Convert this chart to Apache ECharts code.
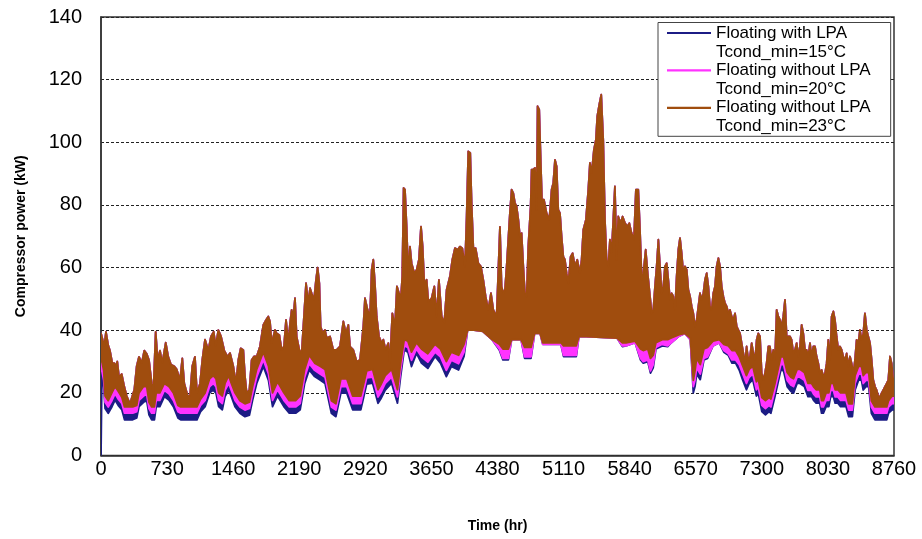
<!DOCTYPE html>
<html>
<head>
<meta charset="utf-8">
<script src="https://cdn.jsdelivr.net/npm/echarts@6/dist/echarts.min.js"></script>
<style>
html,body{margin:0;padding:0;background:#fff;}
#chart{width:922px;height:539px;}
</style>
</head>
<body>
<div id="chart"></div>
<script>
// ---- data (hour of year, compressor power kW) ----
const seriesNames = [
  'Floating with LPA\nTcond_min=15°C',
  'Floating without LPA\nTcond_min=20°C',
  'Floating without LPA\nTcond_min=23°C'
];
const seriesColors = ['#1c1c85', '#ff33ff', '#a04d0e'];

// upper envelope (daily peaks) – shared by the three curves (they coincide at high load)
const upperEnvelope = [
  [0,39],[36,35],[55,39.5],[81,35],[99,33.5],[125,29.5],[147,29.5],[162,28.5],[180,30],[199,25],
  [229,26],[257,22],[284,19],[320,16.5],[346,19],[368,21],[394,28.5],[420,31.5],[450,29.5],[478,33.5],
  [505,32.5],[530,30.5],[560,23],[578,20],[604,39.5],[626,30.5],[652,33.5],[677,29.5],[715,36],[743,31.5],
  [773,29],[810,28.5],[836,27.5],[873,24],[898,31],[920,23],[958,19],[983,19],[1008,28.5],[1038,31.5],
  [1060,20],[1094,23],[1119,30.5],[1149,37],[1185,33.5],[1215,38],[1245,39.5],[1267,35],[1296,40],[1326,38],
  [1362,33.5],[1399,31.5],[1425,32.7],[1462,28.4],[1491,23],[1517,30.5],[1543,34.2],[1572,33.7],[1591,25.2],[1609,19.9],
  [1639,20.9],[1664,30.5],[1690,31.6],[1720,31.6],[1756,34.8],[1793,41.7],[1823,43.3],[1848,44.4],[1867,42.8],[1885,35.9],
  [1904,38],[1922,40.1],[1940,39],[1970,38.5],[1996,33.7],[2021,34.8],[2044,43.3],[2069,35.9],[2088,42.2],[2106,46.5],
  [2125,44.4],[2143,50.2],[2161,38],[2191,33.7],[2217,32.7],[2235,41.2],[2265,55],[2290,48.6],[2309,53.4],[2327,51.8],
  [2353,49.7],[2375,56.1],[2393,60],[2412,55],[2426,41.2],[2449,39],[2474,40.1],[2493,37.5],[2530,38],[2566,33.7],
  [2603,33.7],[2640,34.8],[2677,42.8],[2706,39],[2732,41.7],[2751,34.8],[2787,33.7],[2824,30],[2861,30.5],[2898,41.2],
  [2916,50.2],[2945,46.5],[2971,44.4],[2990,59.3],[3008,62.5],[3026,55],[3045,44.4],[3071,38],[3100,35.9],[3119,37],
  [3144,33.7],[3174,35.9],[3192,29.5],[3218,45.4],[3247,41.2],[3269,54],[3292,51.8],[3314,50.8],[3328,57.2],[3343,85.4],
  [3358,84.9],[3376,73.1],[3395,57.2],[3413,66.7],[3431,61.4],[3461,58.2],[3487,59.3],[3512,62.5],[3535,73.1],[3553,66.7],
  [3571,55],[3597,56.1],[3616,49.1],[3652,50.2],[3682,54],[3708,44.4],[3733,56.1],[3763,44.4],[3792,42.3],[3818,52.9],
  [3855,57.2],[3881,62.5],[3910,66.2],[3940,65.7],[3965,66.7],[3991,66.2],[4021,60.3],[4039,76.3],[4057,97.1],[4079,96.6],
  [4094,80.6],[4113,66.2],[4138,66.2],[4168,61.4],[4197,60.3],[4223,56.1],[4249,50.8],[4278,46.5],[4308,51.8],[4334,46.5],
  [4370,44.4],[4407,73],[4425,54],[4444,51.8],[4462,52.9],[4481,60.4],[4499,68.9],[4517,77.4],[4536,84.9],[4554,83.8],
  [4573,80.6],[4591,79.5],[4610,75.3],[4628,69.9],[4646,71],[4665,60.4],[4683,51.8],[4702,50.8],[4720,66.7],[4746,79.5],
  [4757,91.3],[4775,91.3],[4794,91.8],[4812,78.5],[4823,111.5],[4841,110.4],[4856,95.5],[4871,81.7],[4893,81.7],[4922,77.4],
  [4952,75.3],[4978,84.9],[4996,87],[5015,94.4],[5033,92.3],[5051,78.5],[5070,77.4],[5088,69.9],[5107,63.5],[5125,62.5],
  [5143,58.2],[5162,55],[5188,63.5],[5210,64.6],[5235,60.4],[5261,62.5],[5291,58.2],[5309,62.5],[5328,72.1],[5357,75.3],
  [5383,84.9],[5401,93.4],[5420,90.2],[5445,97.6],[5467,100.8],[5482,108.3],[5504,112],[5526,115.2],[5548,100.8],[5567,75.3],
  [5585,62.5],[5604,60.4],[5622,68.9],[5640,64.6],[5659,75.3],[5677,85.9],[5696,62.5],[5714,76.3],[5740,74.2],[5762,76.3],
  [5788,74.2],[5814,73.1],[5836,74.2],[5861,71],[5887,68.9],[5909,84.9],[5935,84.9],[5954,72.1],[5973,56.1],[5991,58.2],
  [6017,65.7],[6039,58.2],[6065,50.8],[6083,45.4],[6101,46.5],[6120,54],[6138,60.4],[6157,68.9],[6175,60.4],[6194,51.8],
  [6212,54],[6230,60.4],[6249,61.4],[6267,56.1],[6286,49.7],[6304,51.8],[6322,50.8],[6341,46.5],[6359,57.2],[6378,65.7],
  [6396,69.4],[6414,64.6],[6433,58.2],[6451,60.4],[6470,59.3],[6488,52.9],[6507,50.8],[6525,47.6],[6543,45.4],[6562,41.2],
  [6580,43.3],[6599,47.6],[6617,51.8],[6635,49.7],[6654,51.8],[6672,56.1],[6691,58.2],[6709,54],[6727,47.6],[6746,46.5],
  [6764,51.8],[6783,54],[6801,60.4],[6820,63],[6838,60.4],[6856,54],[6875,50.8],[6893,48.6],[6912,47.6],[6930,45.4],
  [6948,46.5],[6967,44.4],[6985,43.3],[7004,45.4],[7022,41.2],[7040,40.1],[7059,39],[7077,35.9],[7096,32.7],[7114,29.5],
  [7132,34.8],[7151,30.5],[7169,31.6],[7188,35.9],[7206,32.7],[7225,30.5],[7243,37],[7261,39],[7280,38],[7298,26.3],
  [7317,24.2],[7335,26.3],[7353,29.5],[7372,34.8],[7390,34.8],[7408,30.5],[7427,33.7],[7445,30.5],[7464,46.5],[7482,44.4],
  [7500,43.3],[7519,41.2],[7537,44.4],[7556,49.7],[7574,38],[7593,38],[7611,38],[7629,36.9],[7648,32.6],[7666,33.7],
  [7685,35.9],[7703,31.6],[7721,34.8],[7740,41.7],[7758,39],[7777,33.7],[7795,33.7],[7813,31.6],[7832,35.9],[7850,31.6],
  [7869,34.8],[7887,34.8],[7905,31.6],[7924,29.4],[7942,26.2],[7961,27.3],[7979,25.2],[7998,26.2],[8016,29.4],[8034,36.9],
  [8053,30.5],[8071,44.4],[8090,46],[8108,43.3],[8126,38],[8145,33.7],[8163,34.8],[8182,33.7],[8200,31.6],[8218,30.5],
  [8237,32.6],[8255,28.4],[8274,31.6],[8292,29.4],[8311,26.2],[8329,30.5],[8347,36.9],[8366,35.9],[8384,40.1],[8403,36.9],
  [8421,39],[8439,45.4],[8458,40.1],[8476,38],[8495,35.9],[8513,30.5],[8531,24.1],[8550,22],[8568,20.9],[8587,18.8],
  [8605,18.8],[8623,19.9],[8642,20.9],[8660,22],[8679,23],[8697,24.1],[8716,31.6],[8734,29.4],[8752,24.1],[8760,22]
];

// lower envelopes (daily minima) of each curve
const lowHours = [
  0,10,30,45,80,120,155,190,230,260,
  300,350,395,420,470,505,530,560,590,610,
  650,700,750,800,850,880,950,1010,1060,1100,
  1150,1200,1240,1270,1300,1340,1370,1410,1440,1480,
  1535,1590,1640,1675,1720,1760,1793,1850,1895,1950,
  2020,2080,2150,2200,2250,2300,2360,2420,2475,2545,
  2595,2650,2715,2780,2870,2935,3000,3060,3090,3140,
  3210,3275,3310,3350,3390,3430,3485,3540,3610,3690,
  3750,3815,3870,3950,4010,4050,4120,4220,4320,4400,
  4440,4500,4536,4640,4680,4750,4790,4850,4880,5080,
  5110,5250,5280,5360,5700,5760,5800,5900,5960,5990,
  6040,6070,6100,6130,6200,6260,6300,6380,6450,6510,
  6543,6562,6580,6620,6660,6700,6760,6830,6880,6930,
  6970,7010,7050,7090,7130,7160,7200,7240,7260,7300,
  7340,7380,7400,7445,7510,7540,7580,7620,7650,7690,
  7720,7770,7810,7850,7870,7900,7940,7960,7980,8010,
  8040,8060,8090,8110,8140,8170,8230,8260,8300,8330,
  8370,8400,8420,8450,8480,8510,8550,8680,8700,8740,
  8760
];
const lowLPA15 = [
  0,25,22,15,13.5,15.5,17.7,16,14.6,11.4,
  11.4,11.4,12,15.6,17,17.5,13,11.4,11.4,15.6,
  15.6,18.8,17.7,15.6,12,11.4,11.4,11.4,11.4,14,
  15.6,20,20.9,19.9,15.6,14.6,18.8,20.9,18.8,15.6,
  13.5,12.4,12.9,17.7,23,26,28.4,24,15.6,19,
  15.6,13.5,13.5,14.6,23,27.3,25.2,24.1,23,13.5,
  12.4,19.9,19.9,14.6,14.6,22.8,23.1,16.7,18,20.9,
  23.1,16.7,25.2,33.7,33,28.4,32.6,29.5,27.8,31.6,
  29.5,25.2,28.4,27.3,31.6,40,40,39.6,37,33.7,
  30.5,30.5,37,37,31,31,39,39,35.5,35.5,
  31.6,31.6,38,38,37.5,34.8,35,36,30.5,29.5,
  30,26.3,28,34,35,34.8,36,38,39,37,
  20,22,26,24.2,30.5,31,35,36,33,32,
  29.5,29.5,27.3,24,21,23,24.2,19,20,14,
  13,14,13.5,18.8,27.3,27,22,20.5,19.9,23,
  23,22,18.8,18.8,17.7,16.7,16.7,13.5,13.5,15.6,
  15.6,18.8,18.8,16.7,16.7,15.6,15.6,12.4,12.4,20.9,
  24.1,24.1,20.9,22,22,13.5,11.4,11.4,13.5,14.6,
  14.6
];
const lowNoLPA20 = [
  27,27,24,17,15.5,17.5,19.7,18,16.6,13.5,
  13.5,13.5,14,17.6,19,19.5,15,13.5,13.5,17.6,
  17.6,20.8,19.7,17.6,14,13.5,13.5,13.5,13.5,16,
  17.6,22,23,22,17.6,16.6,20.8,23,20.8,17.6,
  15.5,14.5,15,19.7,25,28,30.5,26,17.6,21,
  17.6,15.5,15.5,16.6,25,29.3,27.2,26,25,15.5,
  14.5,22,22,16.6,16.6,24.8,25,18.7,20,23,
  25,18.7,27.2,35,34.5,30.4,34,31.5,29.8,33,
  31.5,27.2,30.4,29.3,33,40,40,39.6,37,34,
  31,31,37,37,31.5,31.5,39,39,35.5,35.5,
  32,32,38,38,37.5,35,35,36,31,30,
  30.5,27,29,34.5,35.5,35,36,38,39,37,
  22,24,28,26,31,31.5,35,36,33.5,32.5,
  30.5,30.5,29,26,23,25,26,21,22,16,
  15,16,15.5,20.8,29,29,24,22.5,22,25,
  25,24,20.8,20.8,19.7,18.7,18.7,15.5,15.5,17.6,
  17.6,20.8,20.8,18.7,18.7,17.6,17.6,14.5,14.5,23,
  26,26,23,24,24,15.5,13.5,13.5,15.5,16.6,
  16.6
];
const lowNoLPA23 = [
  30,30,27,19,17.5,20,22,20.5,18.6,15.5,
  15.5,15.5,16,20,22,22,17,15.5,15.5,20,
  20,23,22,20,16,15.5,15.5,15.5,15.5,18,
  20,24.5,25.5,24.5,20,19,23,25.5,23,20,
  17.5,16.5,17,22,27.5,30.5,33,28.5,20,23.5,
  20,17.5,17.5,19,27.5,32,29.5,28.5,27.5,17.5,
  16.5,24.5,24.5,19,19,27,27.5,21,22.5,25.5,
  27.5,21,29.5,37,36.5,33,36,34,32.5,35.5,
  34,30,33,32,35.5,40,40,39.6,37,35.5,
  34,34,37,37,34.5,34.5,39,39,36,36,
  35,35,38,38,37.5,36,36,36.5,34,33.5,
  34,31,32,36,37,37,37.5,38.5,39,37.5,
  24,27,31,29,34,34.5,36.5,37,35.5,35,
  33.5,33.5,31.5,28.5,25.5,27.5,28.5,23.5,24.5,18.5,
  17.5,18.5,18,23,31.5,31.5,26.5,25,24.5,27.5,
  27.5,26.5,23,23,22,21,21,17.5,17.5,20,
  20,23,23,21,21,20,20,16.5,16.5,25.5,
  28.5,28.5,25.5,26.5,26.5,17.5,15.5,15.5,17.5,19,
  19
];
const seriesLows = [lowLPA15, lowNoLPA20, lowNoLPA23];

// axis settings
const xMin = 0, xMax = 8760, xStep = 730;
const yMin = 0, yMax = 140, yStep = 20;

const FONT = "'Liberation Sans', Arial, Helvetica, sans-serif";

function bandSeries(idx) {
  const color = seriesColors[idx];
  const lows = seriesLows[idx];
  return {
    type: 'custom',
    name: seriesNames[idx],
    coordinateSystem: 'cartesian2d',
    z: 2 + idx,
    silent: true,
    clip: true,
    itemStyle: { color: color },
    data: [[0, 0]],
    encode: { x: 0, y: 1 },
    renderItem: function (params, api) {
      const pts = [];
      for (let i = 0; i < upperEnvelope.length; i++) {
        pts.push(api.coord(upperEnvelope[i]));
      }
      for (let i = lowHours.length - 1; i >= 0; i--) {
        pts.push(api.coord([lowHours[i], lows[i]]));
      }
      return {
        type: 'polygon',
        shape: { points: pts },
        style: { fill: color, stroke: color, lineWidth: 1.8, lineJoin: 'round' }
      };
    }
  };
}

const chart = echarts.init(document.getElementById('chart'), null, { renderer: 'canvas' });
chart.setOption({
  animation: false,
  backgroundColor: '#ffffff',
  grid: {
    left: 101, right: 28, top: 17, bottom: 83.5,
    show: true, borderColor: '#333', borderWidth: 1.5, backgroundColor: 'transparent'
  },
  legend: {
    orient: 'vertical',
    left: 658, top: 22.5,
    padding: [1, 20, 0, 9],
    borderColor: '#444', borderWidth: 1,
    backgroundColor: '#fff',
    itemWidth: 44, itemHeight: 38, itemGap: -0.6,
    symbolKeepAspect: false,
    selectedMode: false,
    textStyle: { fontFamily: FONT, fontSize: 17, lineHeight: 19, color: '#000' },
    data: seriesNames.map(function (n, i) {
      return {
        name: n,
        icon: 'path://M0,0h0.05v0.05h-0.05z M0,8.4h44v2.2h-44z M0,37.95h0.05v0.05h-0.05z',
        itemStyle: { color: seriesColors[i], borderWidth: 0 }
      };
    })
  },
  xAxis: {
    type: 'value', min: xMin, max: xMax, interval: xStep,
    name: 'Time (hr)', nameLocation: 'middle', nameGap: 64,
    nameTextStyle: { fontFamily: FONT, fontWeight: 'bold', fontSize: 14, color: '#000' },
    axisLine: { show: true, onZero: false, lineStyle: { color: '#333', width: 1.5 } },
    axisTick: { show: false },
    splitLine: { show: false },
    axisLabel: {
      fontFamily: FONT, fontSize: 20, color: '#000', margin: 4,
      formatter: function (v) { return String(v); }
    }
  },
  yAxis: {
    type: 'value', min: yMin, max: yMax, interval: yStep,
    name: 'Compressor power (kW)', nameLocation: 'middle', nameGap: 73, nameRotate: 90,
    nameTextStyle: { fontFamily: FONT, fontWeight: 'bold', fontSize: 14, color: '#000' },
    axisLine: { show: true, lineStyle: { color: '#333', width: 1.5 } },
    axisTick: { show: false },
    splitLine: { show: true, lineStyle: { color: '#222', width: 1, type: [3, 2] } },
    axisLabel: {
      fontFamily: FONT, fontSize: 20, color: '#000', margin: 19,
      formatter: function (v) { return String(v); }
    }
  },
  series: [bandSeries(0), bandSeries(1), bandSeries(2)]
});
</script>
</body>
</html>
